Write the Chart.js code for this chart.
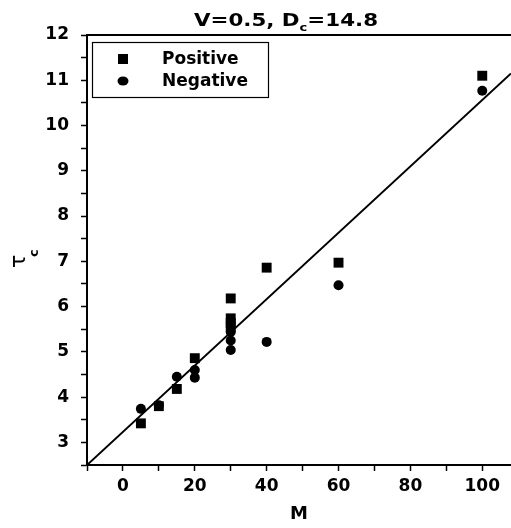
<!DOCTYPE html>
<html>
<head>
<meta charset="utf-8">
<script src="https://cdn.jsdelivr.net/npm/chart.js@4.4.1/dist/chart.umd.min.js"></script>
<style>
  html, body { margin: 0; padding: 0; background: #fff; overflow: hidden; }
  canvas { display: block; }
</style>
</head>
<body>
<canvas id="tauChart" width="511" height="528"></canvas>
<script>
// values
const posM = [5, 10, 15, 20, 30, 30, 30, 30, 40, 60, 100];
const posTau = [3.42, 3.80, 4.18, 4.86, 6.18, 5.74, 5.64, 5.54, 6.86, 6.97, 11.1];
const negM = [5, 10, 15, 20, 20, 30, 30, 30, 40, 60, 100];
const negTau = [3.74, 3.82, 4.45, 4.6, 4.43, 5.44, 5.25, 5.04, 5.22, 6.47, 10.77];
const fitM = [-10, 108];
const fitTau = [2.5, 11.15];
const xTicks = [-10, 0, 10, 20, 30, 40, 50, 60, 70, 80, 90, 100];
const xLabels = [0, 20, 40, 60, 80, 100];

const FONT = "'DejaVu Sans', sans-serif";
const toPoints = (xs, ys) => xs.map((x, i) => ({ x: x, y: ys[i] }));

// title, y title with subscript, top frame line and legend box
const decorations = {
    id: 'decorations',
    afterDraw(chart) {
        const ctx = chart.ctx;
        const area = chart.chartArea;
        ctx.save();
        ctx.fillStyle = '#000';
        ctx.strokeStyle = '#000';

        // top frame
        ctx.lineWidth = 2;
        ctx.beginPath();
        ctx.moveTo(area.left, area.top);
        ctx.lineTo(area.right, area.top);
        ctx.stroke();

        // title: V=0.5, Dc=14.8 (stretched a bit, the original font is wide)
        ctx.textBaseline = 'alphabetic';
        ctx.textAlign = 'left';
        const big = 'bold 18px ' + FONT;
        const small = 'bold 11px ' + FONT;
        const parts = [['V=0.5, D', big, 0], ['c', small, 5], ['=14.8', big, 0]];
        let total = 0;
        parts.forEach(p => { ctx.font = p[1]; total += ctx.measureText(p[0]).width; });
        const sx = 184 / total;
        ctx.save();
        ctx.translate(286 - 92, 0);
        ctx.scale(sx, 1);
        let x = 0;
        parts.forEach(p => {
            ctx.font = p[1];
            ctx.fillText(p[0], x, 26 + p[2]);
            x += ctx.measureText(p[0]).width;
        });
        ctx.restore();

        // y axis title: tau_c
        ctx.save();
        ctx.translate(25, 263);
        ctx.rotate(-Math.PI / 2);
        ctx.font = '22px ' + FONT;
        ctx.fillText('\u03c4', -5, 0);
        ctx.font = 'bold 13px ' + FONT;
        ctx.fillText('c', 6, 13);
        ctx.restore();

        // legend
        ctx.lineWidth = 1.2;
        ctx.strokeRect(92.5, 42.5, 176, 55);
        ctx.font = 'bold 17px ' + FONT;
        ctx.textBaseline = 'middle';
        chart.data.datasets.slice(0, 2).forEach((ds, i) => {
            const y = 59 + i * 22;
            ctx.beginPath();
            if (ds.pointStyle === 'rect') {
                ctx.rect(118, y - 5, 10, 10);
            } else {
                ctx.ellipse(123, y, 5.5, 4.5, 0, 0, Math.PI * 2);
            }
            ctx.fill();
            ctx.fillText(ds.label, 162, y + 1);
        });
        ctx.restore();
    }
};

new Chart(document.getElementById('tauChart'), {
    type: 'scatter',
    data: {
        datasets: [
            {
                label: 'Positive',
                data: toPoints(posM, posTau),
                pointStyle: 'rect',
                pointRadius: 7,
                backgroundColor: '#000',
                borderColor: '#000',
                borderWidth: 0
            },
            {
                label: 'Negative',
                data: toPoints(negM, negTau),
                pointStyle: 'circle',
                pointRadius: 5,
                backgroundColor: '#000',
                borderColor: '#000',
                borderWidth: 0
            },
            {
                label: 'fit',
                type: 'line',
                data: toPoints(fitM, fitTau),
                borderColor: '#000',
                borderWidth: 2,
                pointRadius: 0,
                fill: false
            }
        ]
    },
    options: {
        responsive: false,
        animation: false,
        layout: {
            autoPadding: false,
            padding: { top: 35, right: 0, left: 0, bottom: 0 }
        },
        plugins: {
            legend: { display: false },
            tooltip: { enabled: false }
        },
        scales: {
            x: {
                type: 'linear',
                min: -10,
                max: 108,
                afterBuildTicks: (scale) => {
                    scale.ticks = xTicks.map(v => ({ value: v }));
                },
                afterFit: (scale) => {
                    scale.height = 63;
                    scale.paddingLeft = 0;
                    scale.paddingRight = 0;
                },
                ticks: {
                    autoSkip: false,
                    maxRotation: 0,
                    padding: 5,
                    color: '#000',
                    font: { family: FONT, size: 17, weight: 'bold' },
                    callback: (v) => xLabels.includes(v) ? String(v) : ''
                },
                grid: {
                    drawOnChartArea: false,
                    drawTicks: true,
                    tickLength: 6,
                    tickWidth: 1.5,
                    tickColor: '#000'
                },
                border: { color: '#000', width: 2 },
                title: {
                    display: true,
                    text: 'M',
                    color: '#000',
                    font: { family: FONT, size: 18, weight: 'bold' },
                    padding: { top: 0, bottom: 3 }
                }
            },
            y: {
                type: 'linear',
                min: 2.5,
                max: 12,
                afterFit: (scale) => { scale.width = 87; },
                ticks: {
                    stepSize: 0.5,
                    autoSkip: false,
                    padding: 12,
                    color: '#000',
                    font: { family: FONT, size: 17, weight: 'bold' },
                    callback: (v) => Number.isInteger(v) ? String(v) : ''
                },
                grid: {
                    drawOnChartArea: false,
                    drawTicks: true,
                    tickLength: 6,
                    tickWidth: 1.5,
                    tickColor: '#000'
                },
                border: { color: '#000', width: 2 }
            }
        }
    },
    plugins: [decorations]
});
</script>
</body>
</html>
